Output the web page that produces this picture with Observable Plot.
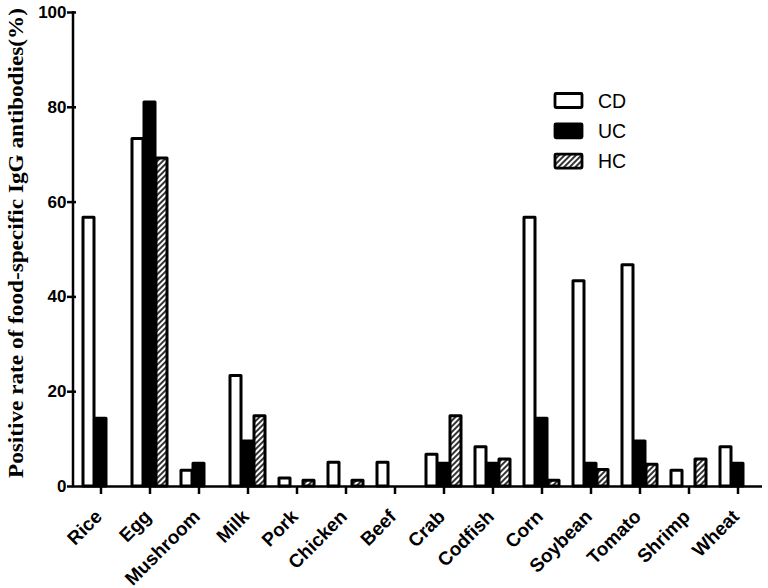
<!DOCTYPE html>
<html><head><meta charset="utf-8">
<script src="https://cdn.jsdelivr.net/npm/d3@7"></script>
<script src="https://cdn.jsdelivr.net/npm/@observablehq/plot@0.6"></script>
<style>
body{margin:0;background:#fff}
#chart{position:relative;width:768px;height:588px}
g[aria-label="y-axis tick"], g[aria-label="fx-axis tick"]{stroke-width:2.5px}
g[aria-label="y-axis tick label"]{font-family:"Liberation Sans",Arial,sans-serif;font-weight:bold;font-size:17px}
</style>
</head><body><div id="chart"></div>
<script>
const foods = ["Rice","Egg","Mushroom","Milk","Pork","Chicken","Beef","Crab","Codfish","Corn","Soybean","Tomato","Shrimp","Wheat"];
const groups = ["CD","UC","HC"];
const cdValues = [56.7,73.3,3.3,23.3,1.7,5.0,5.0,6.7,8.3,56.7,43.3,46.7,3.3,8.3];
const ucValues = [14.3,81.0,4.8,9.5,0,0,0,4.8,4.8,14.3,4.8,9.5,0,4.8];
const hcValues = [0,69.2,0,14.8,1.2,1.2,0,14.8,5.7,1.2,3.5,4.6,5.7,0];
const yTicks = [0,20,40,60,80,100];
const yLabel = "Positive rate of food-specific IgG antibodies(%)";

const series = {CD: cdValues, UC: ucValues, HC: hcValues};
const rows = [];
foods.forEach((f, i) => groups.forEach(g => {
  const v = series[g][i];
  if (v > 0) rows.push({food: f, group: g, value: v});
}));

const plot = Plot.plot({
  width: 768, height: 588,
  marginLeft: 74, marginRight: 5, marginTop: 12, marginBottom: 102,
  fx: {domain: foods, padding: 0, label: null},
  x: {domain: groups, axis: null, paddingInner: 0.12, paddingOuter: 0.48},
  y: {domain: [0, 100], ticks: yTicks, tickSize: 9, tickPadding: 1, label: null},
  color: {domain: groups, range: ["white", "black", "url(#hatch)"]},
  marks: [
    Plot.barY(rows, {fx: "food", x: "group", y: "value", fill: "group", stroke: "black", strokeWidth: 3, strokeLinejoin: "round"}),
    Plot.ruleY([0], {stroke: "black", strokeWidth: 2.5}),
    Plot.axisFx({anchor: "bottom", tickSize: 8, tickFormat: () => "", label: null}),
    Plot.text(foods, {fx: d => d, text: d => d, frameAnchor: "bottom", rotate: -45, textAnchor: "end", lineAnchor: "middle",
      dx: -2, dy: 27, fontSize: 19, fontWeight: "bold", fontFamily: '"Liberation Sans",Arial,sans-serif', fill: "black"})
  ]
});

const svg = d3.select(plot);
const defs = svg.insert("defs", ":first-child");
const pat = defs.append("pattern").attr("id", "hatch").attr("patternUnits", "userSpaceOnUse")
  .attr("width", 4).attr("height", 4).attr("patternTransform", "rotate(45)");
pat.append("rect").attr("width", 4).attr("height", 4).attr("fill", "white");
pat.append("line").attr("x1", 1).attr("y1", 0).attr("x2", 1).attr("y2", 4).attr("stroke", "black").attr("stroke-width", 1.6);

const ys = plot.scale("y");
// y axis line
svg.append("line").attr("x1", 73).attr("x2", 73).attr("y1", ys.apply(100) - 1).attr("y2", ys.apply(0) + 1.25)
  .attr("stroke", "black").attr("stroke-width", 2.5);
// y label
svg.append("text").attr("transform", `translate(16,243) rotate(-90)`)
  .attr("text-anchor", "middle").attr("dy", "0.35em")
  .attr("textLength", 470).attr("lengthAdjust", "spacingAndGlyphs")
  .style("font-family", '"Liberation Serif","Times New Roman",serif').style("font-weight", "bold").style("font-size", "20px")
  .text(yLabel);
// legend
const lg = svg.append("g");
groups.forEach((g, i) => {
  const cy = 100.5 + i * 30.3;
  lg.append("rect").attr("x", 555).attr("y", cy - 7).attr("width", 27).attr("height", 14)
    .attr("fill", ["white", "black", "url(#hatch)"][i]).attr("stroke", "black").attr("stroke-width", 2.8).attr("rx", 1);
  lg.append("text").attr("x", 598).attr("y", cy).attr("dy", "0.36em").attr("text-anchor", "start")
    .style("font-family", '"Liberation Sans",Arial,sans-serif').style("font-size", "19.5px").text(g);
});

document.getElementById("chart").appendChild(plot);
</script>
</body></html>
